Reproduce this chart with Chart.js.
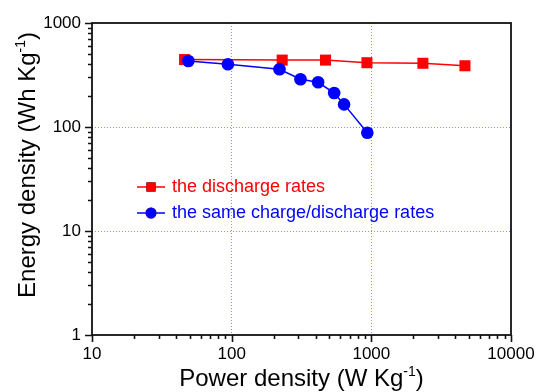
<!DOCTYPE html>
<html><head><meta charset="utf-8">
<script src="https://cdn.jsdelivr.net/npm/chart.js@4/dist/chart.umd.min.js"></script>
<style>html,body{margin:0;padding:0;background:#fff}#wrap{width:539px;height:392px;position:relative}</style>
</head><body><div id="wrap"><canvas id="c" width="539" height="392"></canvas></div>
<script>
// ---- data ----
const dischargePower  = [46, 230, 470, 930, 2340, 4680];
const dischargeEnergy = [445, 440, 440, 415, 410, 388];
const samePower  = [49, 94, 220, 311, 416, 542, 638, 936];
const sameEnergy = [431, 401, 359, 288, 269, 212, 165, 88];
const xTicks = [10, 100, 1000, 10000];
const yTicks = [1, 10, 100, 1000];
const seriesLabels = ['the discharge rates', 'the same charge/discharge rates'];
const xTitle = ['Power density (W Kg', '-1', ')'];
const yTitle = ['Energy density (Wh Kg', '-1', ')'];

const FONT = '"Liberation Sans", Arial, sans-serif';
const RED = '#ff0000', BLUE = '#0000ff', GRID = '#8c8cff';

function pts(xs, ys){ return xs.map((x,i)=>({x:x, y:ys[i]})); }

function minorValues(min, max){
  const out = [];
  for (let d = min; d < max; d *= 10) for (let k = 1; k < 10; k++) out.push(d*k);
  out.push(max);
  return out;
}

const framePlugin = {
  id: 'frame',
  afterDraw(chart){
    const ctx = chart.ctx, a = chart.chartArea;
    const xs = chart.scales.x, ys = chart.scales.y;
    ctx.save();
    ctx.strokeStyle = '#111';
    ctx.lineWidth = 1.6;
    ctx.beginPath();
    minorValues(10, 10000).forEach(v=>{
      const px = Math.round(xs.getPixelForValue(v)) + 0.5;
      const major = xTicks.includes(v);
      ctx.moveTo(px, a.bottom); ctx.lineTo(px, a.bottom + (major ? 7 : 4));
    });
    minorValues(1, 1000).forEach(v=>{
      const py = Math.round(ys.getPixelForValue(v)) + 0.5;
      const major = yTicks.includes(v);
      ctx.moveTo(a.left, py); ctx.lineTo(a.left - (major ? 7 : 4), py);
    });
    ctx.stroke();
    ctx.lineWidth = 1.8;
    ctx.strokeRect(a.left, a.top, a.right - a.left, a.bottom - a.top);
    ctx.restore();

    function drawTitle(parts, size){
      const small = Math.round(size*0.6) + 'px ' + FONT, big = size + 'px ' + FONT;
      ctx.font = big; const w0 = ctx.measureText(parts[0]).width;
      ctx.font = small; const w1 = ctx.measureText(parts[1]).width;
      ctx.font = big; const w2 = ctx.measureText(parts[2]).width;
      let x = -(w0 + w1 + w2)/2;
      ctx.fillStyle = '#000';
      ctx.textBaseline = 'alphabetic';
      ctx.textAlign = 'left';
      ctx.fillText(parts[0], x, 0); x += w0;
      ctx.font = small; ctx.fillText(parts[1], x, -size*0.42); x += w1;
      ctx.font = big; ctx.fillText(parts[2], x, 0);
    }
    ctx.save();
    ctx.translate((a.left + a.right)/2, 386);
    drawTitle(xTitle, 24);
    ctx.restore();
    ctx.save();
    ctx.translate(35, 165);
    ctx.rotate(-Math.PI/2);
    drawTitle(yTitle, 24);
    ctx.restore();

    const rows = [
      {ds: chart.data.datasets[1], y: 187},
      {ds: chart.data.datasets[0], y: 213}
    ];
    ctx.save();
    rows.forEach(r=>{
      ctx.strokeStyle = r.ds.borderColor;
      ctx.lineWidth = 1.5;
      ctx.beginPath(); ctx.moveTo(137, r.y); ctx.lineTo(165, r.y); ctx.stroke();
      Chart.helpers.drawPoint(ctx, {pointStyle: r.ds.pointStyle, radius: r.ds.pointStyle === 'rect' ? 6.5 : 5.5, rotation: 0, borderWidth: 0}, 151, r.y);
      ctx.fillStyle = r.ds.borderColor;
      ctx.fill();
      ctx.font = '18px ' + FONT;
      ctx.textBaseline = 'middle';
      ctx.textAlign = 'left';
      ctx.fillText(r.ds.label, 172, r.y);
    });
    ctx.restore();
  }
};

new Chart(document.getElementById('c'), {
  type: 'scatter',
  data: {
    datasets: [
      {
        label: seriesLabels[1], data: pts(samePower, sameEnergy), showLine: true,
        borderColor: BLUE, backgroundColor: BLUE, borderWidth: 1.5,
        pointStyle: 'circle', pointRadius: 6.3, pointHoverRadius: 6.3, pointBorderWidth: 0, order: 0
      },
      {
        label: seriesLabels[0], data: pts(dischargePower, dischargeEnergy), showLine: true,
        borderColor: RED, backgroundColor: RED, borderWidth: 1.5,
        pointStyle: 'rect', pointRadius: 7.8, pointHoverRadius: 7.8, pointBorderWidth: 0, order: 1
      }
    ]
  },
  options: {
    responsive: false, animation: false, devicePixelRatio: 1,
    layout: {padding: {left: 0, top: 23, right: 28, bottom: 0}},
    plugins: {legend: {display: false}, tooltip: {enabled: false}},
    scales: {
      x: {
        type: 'logarithmic', min: 10, max: 10000,
        afterBuildTicks: s => { s.ticks = xTicks.map(v=>({value: v})); },
        afterFit: s => { s.height = 57; s.paddingLeft = 0; s.paddingRight = 0; },
        ticks: {color: '#000', font: {family: FONT, size: 17}, padding: 9, maxRotation: 0, autoSkip: false,
                callback: v => String(v)},
        grid: {drawTicks: false, lineWidth: 1,
               color: c => (c.tick && c.tick.value > 10 && c.tick.value < 10000) ? GRID : 'rgba(0,0,0,0)'},
        border: {display: false, dash: [1, 2]}
      },
      y: {
        type: 'logarithmic', min: 1, max: 1000,
        afterBuildTicks: s => { s.ticks = yTicks.map(v=>({value: v})); },
        afterFit: s => { s.width = 92; s.paddingTop = 0; s.paddingBottom = 0; },
        ticks: {color: '#000', font: {family: FONT, size: 17}, padding: 11, autoSkip: false,
                callback: v => String(v)},
        grid: {drawTicks: false, lineWidth: 1,
               color: c => (c.tick && c.tick.value > 1 && c.tick.value < 1000) ? GRID : 'rgba(0,0,0,0)'},
        border: {display: false, dash: [1, 2]}
      }
    }
  },
  plugins: [framePlugin]
});
</script>
</body></html>
